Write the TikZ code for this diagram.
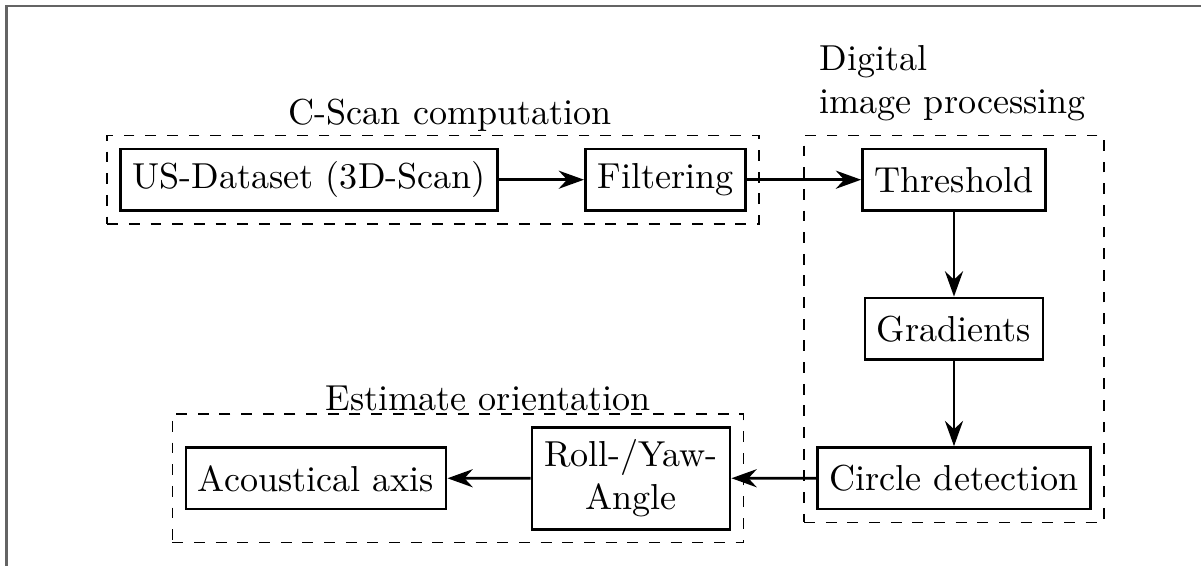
\documentclass[tikz,border=0pt]{standalone}
\usetikzlibrary{arrows.meta,fit}
\begin{document}
\begin{tikzpicture}[x=0.277pt,y=-0.277pt,
  blk/.style={draw,thick,minimum height=17pt,align=center},
  grp/.style={draw,dashed,inner sep=3.33pt},
  conn/.style={thick,-{Stealth[length=7pt,width=5pt,inset=2.3pt]}},
  lbl/.style={inner sep=0pt}]
\useasboundingbox (0,0) rectangle (1201,565);
\draw[line width=0.6pt,color={rgb,255:red,100;green,100;blue,100}] (6.5,575) -- (6.5,5.7) -- (1211,5.7);
\node[blk] (us) at (309.3,179.7) {US-Dataset (3D-Scan)};
\node[blk] (filt) at (665.5,179.7) {Filtering};
\node[blk] (thr) at (954,179.7) {Threshold};
\node[blk] (grad) at (954,328.7) {Gradients};
\node[blk] (circ) at (954,478.3) {Circle detection};
\node[blk] (roll) at (631,478.2) {Roll-/Yaw-\\Angle};
\node[blk] (acou) at (316,478.3) {Acoustical axis};
\node[grp,fit=(us)(filt)] (g1) {};
\node[grp,fit=(thr)(grad)(circ)] (g2) {};
\node[grp,fit=(acou)(roll)] (g3) {};
\node[lbl,anchor=base west] (l1) at (288,124) {C-Scan computation};
\node[lbl,anchor=base west] (l3) at (325,410.7) {Estimate orientation};
\node[lbl,anchor=south west,align=left] (l2) at (819,122) {Digital\\image processing};
\draw[conn] (us) -- (filt);
\draw[conn] (filt) -- (thr);
\draw[conn] (thr) -- (grad);
\draw[conn] (grad) -- (circ);
\draw[conn] (circ) -- (roll);
\draw[conn] (roll) -- (acou);
\end{tikzpicture}
\end{document}
